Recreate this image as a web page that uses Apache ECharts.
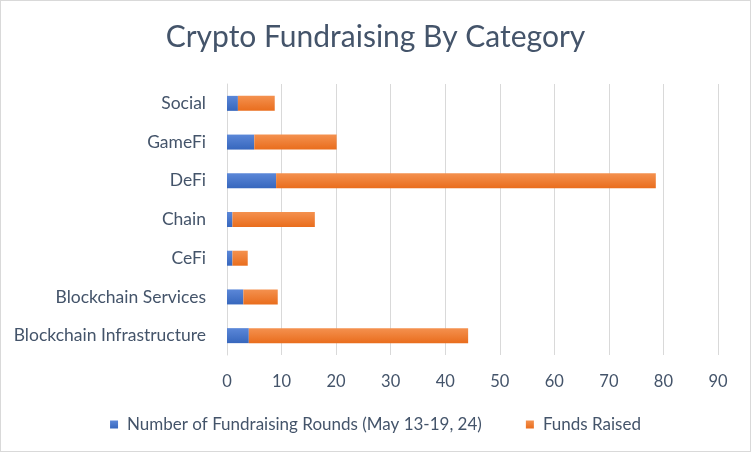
<!DOCTYPE html>
<html>
<head>
<meta charset="utf-8">
<script src="https://cdn.jsdelivr.net/npm/echarts@6/dist/echarts.min.js"></script>
<style>
html,body{margin:0;padding:0;background:#fff;}
#c{width:749px;height:450px;border:1px solid #d9d9d9;}
</style>
</head>
<body>
<div id="c"></div>
<script>
const categories = ["Blockchain Infrastructure","Blockchain Services","CeFi","Chain","DeFi","GameFi","Social"];
const rounds = [4, 3, 1, 1, 9, 5, 2];
const funds = [40.2, 6.3, 2.8, 15.1, 69.6, 15.1, 6.75];
const xTicks = [0,10,20,30,40,50,60,70,80,90];
const seriesNames = ["Number of Fundraising Rounds (May 13-19, 24)", "Funds Raised"];

const chart = echarts.init(document.getElementById('c'), null, {renderer:'canvas'});
const grad = (a,b)=>new echarts.graphic.LinearGradient(0,0,0,1,[{offset:0,color:a},{offset:1,color:b}]);
const font = "Lato, 'Liberation Sans', sans-serif";
const txt = '#44546A';
chart.setOption({
  animation:false,
  title:{text:"Crypto Fundraising By Category",left:'center',top:16,
    textStyle:{fontFamily:font,fontWeight:'normal',fontSize:30,color:txt}},
  grid:{left:226,right:32,top:83,bottom:96},
  xAxis:{type:'value',min:xTicks[0],max:xTicks[xTicks.length-1],interval:10,
    axisLine:{show:false},axisTick:{show:false},
    splitLine:{lineStyle:{color:'#d9d9d9',width:1}},
    axisLabel:{color:txt,fontSize:16.5,fontFamily:font,margin:18}},
  yAxis:{type:'category',data:categories,
    axisLine:{show:true,lineStyle:{color:'#d9d9d9'}},axisTick:{show:false},
    axisLabel:{color:txt,fontSize:17.5,fontFamily:font,margin:21}},
  legend:{top:410,left:'center',itemWidth:8,itemHeight:8,itemGap:44,icon:'rect',
    textStyle:{color:txt,fontSize:17,fontFamily:font,padding:[0,0,0,4]}},
  series:[
    {name:seriesNames[0],type:'bar',stack:'a',data:rounds,barWidth:15,
     itemStyle:{color:grad('#5b87d8','#3767bd')}},
    {name:seriesNames[1],type:'bar',stack:'a',data:funds,barWidth:15,
     itemStyle:{color:grad('#f4914f','#e96d1d')}}
  ]
});
</script>
</body>
</html>
